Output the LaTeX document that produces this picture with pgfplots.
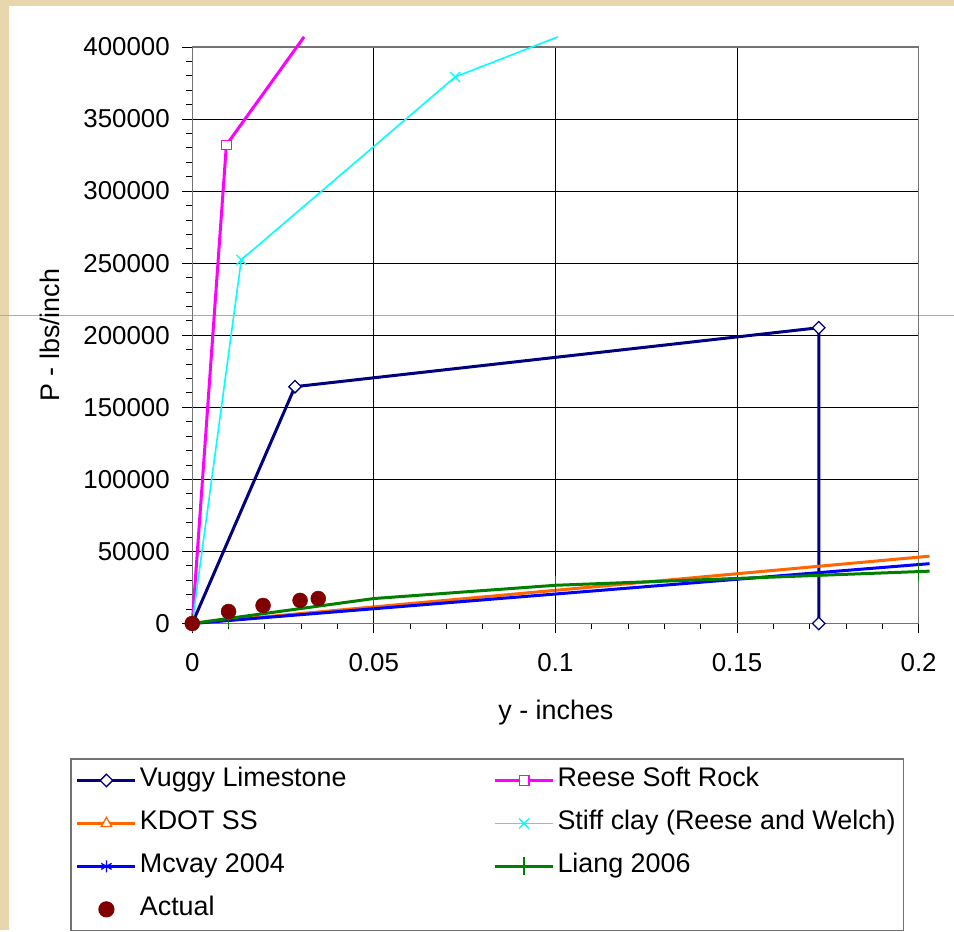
\documentclass[border=0pt]{standalone}
\usepackage{pgfplots}
\pgfplotsset{compat=1.18}
\usepackage{fontspec}
\setmainfont{Liberation Sans}
\definecolor{bgtan}{RGB}{233,214,172}
\definecolor{vuggy}{RGB}{0,0,128}
\definecolor{reese}{RGB}{255,0,255}
\definecolor{kdot}{RGB}{255,102,0}
\definecolor{stiff}{RGB}{0,255,255}
\definecolor{mcvay}{RGB}{0,0,255}
\definecolor{liang}{RGB}{0,128,0}
\definecolor{actual}{RGB}{128,0,0}
\newcommand{\tickf}{\fontsize{26}{31}\selectfont}
\newcommand{\bigf}{\fontsize{27}{32}\selectfont}
\begin{document}
\begin{tikzpicture}
\fill[bgtan] (0bp,0bp) rectangle (954bp,931bp);
\fill[white] (9bp,0bp) rectangle (954bp,925bp);
\draw[bgtan!80!black, line width=0.8bp] (0bp,615bp) -- (954bp,615bp);
\begin{axis}[
  at={(192bp,307bp)}, anchor=south west,
  scale only axis, width=727bp, height=577bp,
  xmin=0, xmax=0.2, ymin=0, ymax=400000,
  clip=false,
  xtick={0,0.05,0.1,0.15,0.2},
  ytick={0,50000,100000,150000,200000,250000,300000,350000,400000},
  minor x tick num=4, minor y tick num=4,
  tick align=outside, tick pos=left,
  major tick length=10bp, minor tick length=6bp,
  every tick/.style={black, line width=0.8bp},
  scaled x ticks=false, scaled y ticks=false,
  xticklabel style={/pgf/number format/.cd, fixed, assume math mode=true, /tikz/.cd, yshift=-16bp},
  yticklabel style={/pgf/number format/.cd, fixed, 1000 sep={}, assume math mode=true, /tikz/.cd, xshift=-9bp},
  tick label style={font=\tickf},
  grid=major,
  major grid style={black, line width=0.8bp},
  axis line style={draw=black!55, line width=1.3bp},
  xlabel={y - inches}, ylabel={P - lbs/inch},
  every axis x label/.style={at={(axis description cs:0.5007,-0.1542)}, anchor=center, font=\bigf},
  every axis y label/.style={at={(axis description cs:-0.1953,0.5)}, rotate=90, anchor=center, font=\bigf},
  legend columns=2,
  legend cell align=left,
  legend style={at={(axis description cs:-0.1678,-0.2340)}, anchor=north west,
    draw=black!55, line width=1.2bp, font=\bigf, inner sep=5bp,
    row sep=10bp,
    nodes={inner xsep=3bp, inner ysep=4bp, text height=19bp, text depth=6bp}},
  legend image code/.code={\draw[#1, mark repeat=1, mark phase=1, mark indices={2}] plot coordinates {(0bp,0bp) (29bp,0bp) (58bp,0bp)};},
]
\addplot[vuggy, line width=3bp, mark=square*, mark size=4.4bp,
  mark options={rotate=45, fill=white, line width=1.3bp}]
  coordinates {(0,0) (0.0283,164300) (0.1725,205200) (0.1725,0)};
\addlegendentry{\makebox[351bp][l]{Vuggy Limestone}}
\addplot[reese, line width=3bp, mark=square*, mark size=4.8bp, mark indices={1,2},
  mark options={fill=white, line width=1.3bp}]
  coordinates {(0,0) (0.0094,332000) (0.0308,407000)};
\addlegendentry{Reese Soft Rock}
\addplot[kdot, line width=3bp, mark=triangle*, mark size=6bp, mark indices={1},
  mark options={fill=white, line width=1.3bp}]
  coordinates {(0,0) (0.203,46700)};
\addlegendentry{\makebox[351bp][l]{KDOT SS}}
\addplot[stiff, line width=1.6bp, mark=x, mark size=7bp, mark indices={1,2,3},
  mark options={line width=1.3bp}]
  coordinates {(0,0) (0.0135,252300) (0.0724,379200) (0.1007,407000)};
\addlegendentry{Stiff clay (Reese and Welch)}
\addplot[mcvay, line width=3bp, mark=asterisk, mark size=6bp, mark indices={1},
  mark options={line width=1.3bp}]
  coordinates {(0,0) (0.203,41500)};
\addlegendentry{\makebox[351bp][l]{Mcvay 2004}}
\addplot[liang, line width=3bp, mark=|, mark size=9bp, mark indices={1,2,3,4,5},
  mark options={line width=1.3bp}]
  coordinates {(0,0) (0.01,3500) (0.05,17300) (0.1,26500) (0.2,36000) (0.203,36300)};
\addlegendentry{Liang 2006}
\addplot[actual, only marks, mark=*, mark size=7.5bp]
  coordinates {(0,0) (0.01,8300) (0.0195,12500) (0.0297,16000) (0.0347,17300)};
\addlegendentry{Actual}
\end{axis}
\end{tikzpicture}
\end{document}
